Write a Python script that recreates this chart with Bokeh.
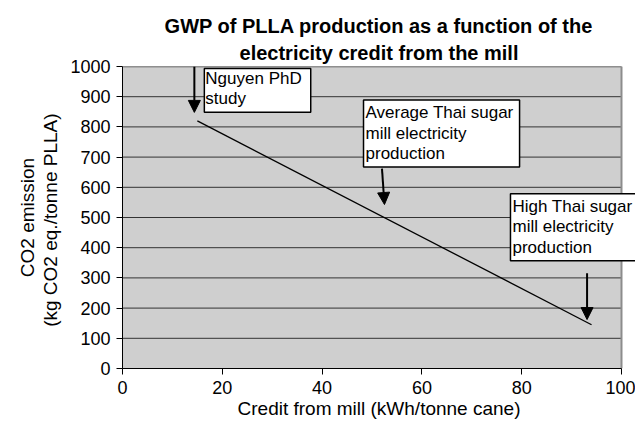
from bokeh.plotting import figure
from bokeh.models import Range1d, Label, Arrow, NormalHead, FixedTicker, Title, LinearAxis
from bokeh.embed import file_html
from bokeh.resources import INLINE

# data
credit = [15, 94]
gwp = [820, 145]

x_ticks = [0, 20, 40, 60, 80, 100]
y_ticks = [0, 100, 200, 300, 400, 500, 600, 700, 800, 900, 1000]

title_lines = ["GWP of PLLA production as a function of the",
               "electricity credit from the mill"]
x_label = "Credit from mill (kWh/tonne cane)"
y_label_lines = ["CO2 emission", "(kg CO2 eq./tonne  PLLA)"]

note_texts = ["Nguyen PhD\nstudy",
              "Average Thai sugar\nmill electricity\nproduction",
              "High Thai sugar\nmill electricity\nproduction"]
note_x = [16.4, 48.3, 77.75]
note_y = [993, 889, 579]

arrow_x0 = [14.4, 52.0, 93.1]
arrow_y0 = [1000, 662, 315]
arrow_x1 = [14.4, 52.5, 93.1]
arrow_y1 = [848, 543, 162]

FONT = "Liberation Sans"

W, H = 635, 421
LEFT, TOP, PLOT_RIGHT, BOTTOM = 122, 66, 621, 369
x_min, x_max = x_ticks[0], x_ticks[-1]
y_min, y_max = y_ticks[0], y_ticks[-1]
# the frame runs to the canvas edge so the last note box can overhang the plot area
x_end = x_max * (W - LEFT) / (PLOT_RIGHT - LEFT)

p = figure(width=W, height=H, output_backend="svg", toolbar_location=None,
           title=None,
           x_range=Range1d(x_min, x_end), y_range=Range1d(y_min, y_max),
           min_border_left=LEFT, min_border_right=0, min_border_top=TOP,
           min_border_bottom=H - BOTTOM)

# title lines (nearest the frame added first)
for i, t in enumerate(reversed(title_lines)):
    p.add_layout(Title(text=t, align="center", text_font=FONT, text_font_size="20px",
                       text_font_style="bold", text_color="black", offset=-5,
                       standoff=6 if i == 0 else 0), "above")

p.background_fill_color = "white"
p.border_fill_color = "white"
p.outline_line_color = None
p.xgrid.grid_line_color = None
p.ygrid.grid_line_color = None

# plot area
p.quad(left=[x_min], right=[x_max], bottom=[y_min], top=[y_max],
       fill_color="#cfcfcf", line_color=None)
p.segment(x0=[x_min] * len(y_ticks), x1=[x_max] * len(y_ticks), y0=y_ticks, y1=y_ticks,
          line_color="#333333", line_width=1)
p.line([x_min, x_max, x_max], [y_max, y_max, y_min], line_color="#8c8c8c", line_width=2)

p.xaxis.ticker = FixedTicker(ticks=x_ticks)
p.yaxis.ticker = FixedTicker(ticks=y_ticks)
p.xaxis.bounds = (x_min, x_max)

for ax in (p.xaxis, p.yaxis):
    ax.axis_line_color = "black"
    ax.major_tick_line_color = "black"
    ax.major_tick_out = 6
    ax.major_tick_in = 0
    ax.minor_tick_line_color = None
    ax.major_label_text_font = FONT
    ax.major_label_text_font_size = "18px"
    ax.major_label_text_color = "black"
    ax.axis_label_text_font = FONT
    ax.axis_label_text_font_size = "19px"
    ax.axis_label_text_font_style = "normal"
    ax.axis_label_text_color = "black"

p.xaxis.axis_label = x_label
p.xaxis.major_label_standoff = 6
p.yaxis.major_label_standoff = 6
p.xaxis.axis_label_standoff = 1
p.yaxis.axis_label = y_label_lines[1]
p.yaxis.axis_label_standoff = 6

outer = LinearAxis(axis_label=y_label_lines[0], ticker=FixedTicker(ticks=[]),
                   axis_line_color=None, major_tick_line_color=None,
                   minor_tick_line_color=None, axis_label_standoff=0,
                   axis_label_text_font=FONT, axis_label_text_font_size="19px",
                   axis_label_text_font_style="normal", axis_label_text_color="black")
p.add_layout(outer, "left")

p.line(credit, gwp, line_color="black", line_width=1.3)

for i in range(3):
    p.add_layout(Arrow(end=NormalHead(size=12, fill_color="black", line_color="black"),
                       x_start=arrow_x0[i], y_start=arrow_y0[i],
                       x_end=arrow_x1[i], y_end=arrow_y1[i],
                       line_color="black", line_width=2))

pads = [(1, 9, 0, 4), (2, 6, 3, 4), (2, 20, 3, 4)]
for i in range(3):
    p.add_layout(Label(x=note_x[i], y=note_y[i], text=note_texts[i], anchor="top_left",
                       text_font=FONT, text_font_size="17px", text_line_height=1.08,
                       text_color="black",
                       background_fill_color="white", border_line_color="black",
                       border_line_width=1.5, padding=pads[i]))

open("out.html", "w").write(file_html(p, INLINE))
